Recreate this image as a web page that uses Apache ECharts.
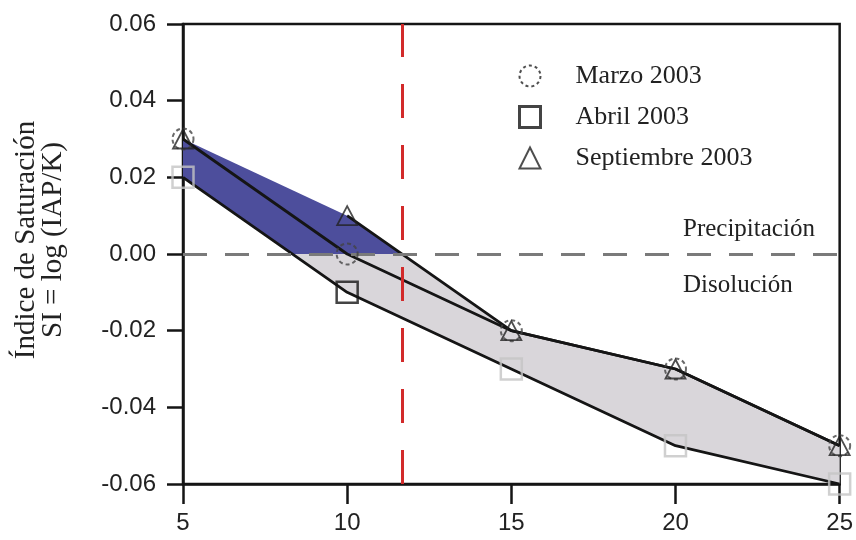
<!DOCTYPE html>
<html>
<head>
<meta charset="utf-8">
<script src="https://cdn.jsdelivr.net/npm/echarts@6/dist/echarts.min.js"></script>
<style>
html,body{margin:0;padding:0;background:#fff;}
#chart{width:856px;height:540px;}
</style>
</head>
<body>
<div id="chart"></div>
<script>
// ---- data ----
const xVals = [5, 10, 15, 20, 25];
const marzo = [0.03, 0.00, -0.02, -0.03, -0.05];
const abril = [0.02, -0.01, -0.03, -0.05, -0.06];
const septiembre = [0.03, 0.01, -0.02, -0.03, -0.05];
const seriesNames = ['Marzo 2003', 'Abril 2003', 'Septiembre 2003'];
const yAxisName = ['Índice de Saturación', 'SI = log (IAP/K)'];
const zoneLabels = ['Precipitación', 'Disolución'];

const serif = 'Liberation Serif, Times New Roman, serif';
const sans = 'Liberation Sans, Arial, sans-serif';
const ink = '#151515';

function pairs(ys) { return ys.map((v, i) => [xVals[i], v]); }
function crossZero(ys) {
  for (let i = 0; i < ys.length - 1; i++) {
    if (ys[i] >= 0 && ys[i + 1] < 0) {
      return xVals[i] + (xVals[i + 1] - xVals[i]) * ys[i] / (ys[i] - ys[i + 1]);
    }
  }
  return null;
}
const xSept0 = crossZero(septiembre);
const xAbril0 = crossZero(abril);

// polygon vertices in data space
const upperPts = pairs(septiembre);
const lowerPts = pairs(abril);
const bluePoly = upperPts.filter(p => p[1] >= 0)
  .concat([[xSept0, 0], [xAbril0, 0]])
  .concat(lowerPts.filter(p => p[1] >= 0).reverse());
const grayPoly = [[xAbril0, 0], [xSept0, 0]]
  .concat(upperPts.filter(p => p[1] < 0))
  .concat(lowerPts.filter(p => p[1] < 0).reverse());

function polySeries(poly, fill) {
  return {
    type: 'custom',
    silent: true,
    z: 1,
    data: [[xVals[0], 0]],
    renderItem: function (params, api) {
      return {
        type: 'polygon',
        shape: { points: poly.map(p => api.coord(p)) },
        style: { fill: fill, stroke: null }
      };
    }
  };
}

const abrilData = pairs(abril).map((p, i) => ({
  value: p,
  itemStyle: { borderColor: i === 1 ? ink : '#c4c4c4' }
}));

const chart = echarts.init(document.getElementById('chart'), null, { renderer: 'canvas' });
chart.setOption({
  animation: false,
  backgroundColor: '#fff',
  grid: { left: 183, right: 15, top: 24, bottom: 56, show: true, borderColor: ink, borderWidth: 2.5, backgroundColor: 'transparent' },
  legend: {
    orient: 'vertical',
    left: 513,
    top: 58,
    itemWidth: 21,
    itemHeight: 21,
    itemGap: 15,
    selectedMode: false,
    data: [
      { name: seriesNames[0], itemStyle: { color: 'rgba(255,255,255,0)', borderColor: '#222', borderWidth: 2, borderType: [3, 3] } },
      { name: seriesNames[1], itemStyle: { color: 'rgba(255,255,255,0)', borderColor: ink, borderWidth: 3 } },
      { name: seriesNames[2], itemStyle: { color: 'rgba(255,255,255,0)', borderColor: '#222', borderWidth: 2 } }
    ],
    textStyle: { fontFamily: serif, fontSize: 26, color: '#222', padding: [0, 0, 0, 30] }
  },
  xAxis: {
    type: 'value', min: 5, max: 25, interval: 5,
    axisLine: { show: true, onZero: false, lineStyle: { color: ink, width: 2.5 } },
    axisTick: { show: true, length: 20, lineStyle: { color: ink, width: 2.5 } },
    axisLabel: { fontFamily: sans, fontSize: 24, color: '#222', margin: 27 },
    splitLine: { show: false }
  },
  yAxis: {
    type: 'value', min: -0.06, max: 0.06, interval: 0.02,
    name: yAxisName.join('\n'),
    nameLocation: 'middle',
    nameGap: 116,
    nameRotate: 90,
    nameTextStyle: { fontFamily: serif, fontSize: 29, color: '#222', lineHeight: 27, padding: [0, 0, 0, 28] },
    axisLine: { show: true, lineStyle: { color: ink, width: 2.5 } },
    axisTick: { show: true, length: 16, lineStyle: { color: ink, width: 2.5 } },
    axisLabel: { fontFamily: sans, fontSize: 24, color: '#222', margin: 27,
      formatter: v => v.toFixed(2) },
    splitLine: { show: false }
  },
  graphic: [
    { type: 'text', left: 683, top: 217, z: 10, style: { text: zoneLabels[0], font: '25px ' + serif, fill: '#222' } },
    { type: 'text', left: 683, top: 273, z: 10, style: { text: zoneLabels[1], font: '25px ' + serif, fill: '#222' } }
  ],
  series: [
    polySeries(bluePoly, '#4d4e9c'),
    polySeries(grayPoly, '#d9d6da'),
    {
      type: 'line', data: pairs(marzo), symbol: 'none', z: 3, silent: true,
      lineStyle: { color: ink, width: 2.8 },
      markLine: {
        silent: true, symbol: 'none', label: { show: false },
        data: [
          { yAxis: 0, lineStyle: { color: '#7a7a7a', type: [24, 18], width: 3 } },
          { xAxis: xSept0, lineStyle: { color: '#d22a2a', type: [34, 27], width: 3 } }
        ]
      }
    },
    {
      type: 'line', data: pairs(abril), symbol: 'none', z: 3, silent: true,
      lineStyle: { color: ink, width: 2.8 }
    },
    {
      type: 'line', data: pairs(septiembre).slice(1), symbol: 'none', z: 3, silent: true,
      lineStyle: { color: ink, width: 2.8 }
    },
    {
      name: seriesNames[0], type: 'scatter', data: pairs(marzo), symbol: 'circle', symbolSize: 21, z: 5,
      itemStyle: { color: 'rgba(255,255,255,0)', borderColor: '#444', borderWidth: 2, borderType: [4, 3] }
    },
    {
      name: seriesNames[1], type: 'scatter', data: abrilData, symbol: 'rect', symbolSize: 21, z: 5,
      itemStyle: { color: 'rgba(255,255,255,0)', borderColor: ink, borderWidth: 2.5 }
    },
    {
      name: seriesNames[2], type: 'scatter', data: pairs(septiembre), symbol: 'triangle', symbolSize: [20, 19], z: 5,
      itemStyle: { color: 'rgba(255,255,255,0)', borderColor: '#222', borderWidth: 1.8 }
    }
  ]
});
</script>
</body>
</html>
